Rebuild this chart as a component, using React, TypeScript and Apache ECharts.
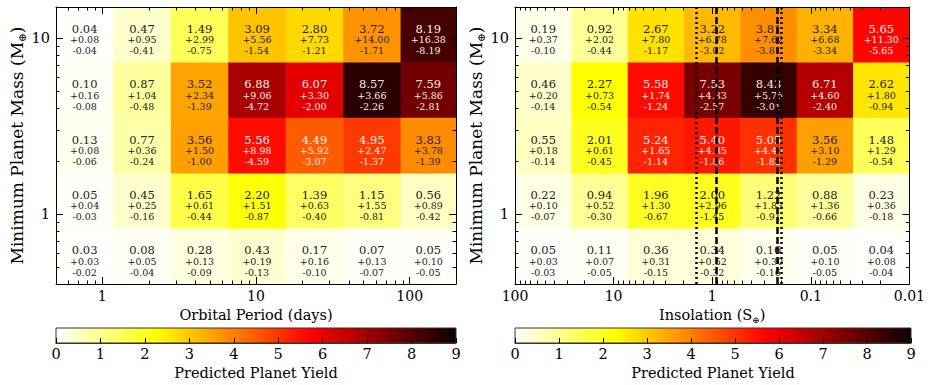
import React, { useEffect, useRef } from "react";
import * as echarts from "echarts";

// ---------- data ----------
// bin edges (log-spaced cells)
const periodEdges = [0.5, 1.18, 2.79, 6.6, 15.6, 36.9, 87.2, 200];
const insolationEdges = [100, 26.8, 7.2, 1.93, 0.518, 0.139, 0.0373, 0.01];
const massEdges = [15, 7.26, 3.52, 1.7, 0.826, 0.4]; // top -> bottom

// left panel (rows top -> bottom, columns short -> long period)
const periodYield = [
  [0.04, 0.47, 1.49, 3.09, 2.8, 3.72, 8.19],
  [0.1, 0.87, 3.52, 6.88, 6.07, 8.57, 7.59],
  [0.13, 0.77, 3.56, 5.56, 4.49, 4.95, 3.83],
  [0.05, 0.45, 1.65, 2.2, 1.39, 1.15, 0.56],
  [0.03, 0.08, 0.28, 0.43, 0.17, 0.07, 0.05],
];
const periodPlus = [
  [0.08, 0.95, 2.99, 5.56, 7.73, 14.0, 16.38],
  [0.16, 1.04, 2.34, 9.06, 3.3, 3.66, 5.86],
  [0.08, 0.36, 1.5, 8.98, 5.92, 2.47, 3.78],
  [0.04, 0.25, 0.61, 1.51, 0.63, 1.55, 0.89],
  [0.03, 0.05, 0.13, 0.19, 0.16, 0.13, 0.1],
];
const periodMinus = [
  [0.04, 0.41, 0.75, 1.54, 1.21, 1.71, 8.19],
  [0.08, 0.48, 1.39, 4.72, 2.0, 2.26, 2.81],
  [0.06, 0.24, 1.0, 4.59, 3.07, 1.37, 1.39],
  [0.03, 0.16, 0.44, 0.87, 0.4, 0.81, 0.42],
  [0.02, 0.04, 0.09, 0.13, 0.1, 0.07, 0.05],
];

// right panel (rows top -> bottom, columns high -> low insolation)
const insolYield = [
  [0.19, 0.92, 2.67, 3.22, 3.81, 3.34, 5.65],
  [0.46, 2.27, 5.58, 7.53, 8.43, 6.71, 2.62],
  [0.55, 2.01, 5.24, 5.4, 5.05, 3.56, 1.48],
  [0.22, 0.94, 1.96, 2.0, 1.22, 0.88, 0.23],
  [0.05, 0.11, 0.36, 0.34, 0.16, 0.05, 0.04],
];
const insolPlus = [
  [0.37, 2.02, 7.8, 6.78, 7.62, 6.68, 11.3],
  [0.2, 0.73, 1.74, 4.33, 5.75, 4.6, 1.8],
  [0.18, 0.61, 1.65, 4.35, 4.4, 3.1, 1.29],
  [0.1, 0.52, 1.3, 2.96, 1.83, 1.36, 0.36],
  [0.03, 0.07, 0.31, 0.52, 0.3, 0.1, 0.08],
];
const insolMinus = [
  [0.1, 0.44, 1.17, 3.02, 3.81, 3.34, 5.65],
  [0.14, 0.54, 1.24, 2.57, 3.01, 2.4, 0.94],
  [0.14, 0.45, 1.14, 1.86, 1.82, 1.29, 0.54],
  [0.07, 0.3, 0.67, 1.45, 0.91, 0.66, 0.18],
  [0.03, 0.05, 0.15, 0.32, 0.16, 0.05, 0.04],
];

// habitable-zone boundaries drawn on the insolation panel
const hzOptimistic = [1.45, 0.204]; // dotted
const hzConservative = [0.91, 0.22]; // dashed

// ticks
const periodMajor = [1, 10, 100];
const periodMinor = [0.6, 0.7, 0.8, 0.9, 2, 3, 4, 5, 6, 7, 8, 9, 20, 30, 40, 50, 60, 70, 80, 90];
const massMajor = [1, 10];
const massMinor = [0.5, 0.6, 0.7, 0.8, 0.9, 2, 3, 4, 5, 6, 7, 8, 9];
const insolMajor = [0.01, 0.1, 1, 10, 100];
const insolMinor = [
  0.02, 0.03, 0.04, 0.05, 0.06, 0.07, 0.08, 0.09,
  0.2, 0.3, 0.4, 0.5, 0.6, 0.7, 0.8, 0.9,
  2, 3, 4, 5, 6, 7, 8, 9,
  20, 30, 40, 50, 60, 70, 80, 90,
];
const yieldMin = 0;
const yieldMax = 9;

// ---------- styling helpers ----------
const FONT = "DejaVu Serif";
const MINOR_LEN = 3.5;

function hotR(value: number): string {
  const t = Math.max(0, Math.min(1, value / yieldMax));
  const v = 1 - t;
  const a = 0.365079;
  const b = 0.746032;
  const r = v < a ? 0.0416 + (1 - 0.0416) * (v / a) : 1;
  const g = v < a ? 0 : v < b ? (v - a) / (b - a) : 1;
  const bl = v < b ? 0 : (v - b) / (1 - b);
  const h = (x: number) => Math.round(x * 255);
  return `rgb(${h(r)},${h(g)},${h(bl)})`;
}

function fmtTick(v: number): string {
  return String(Number(v.toPrecision(3)));
}

function buildCells(xEdges: number[], vals: number[][], plus: number[][], minus: number[][]) {
  const out: number[][] = [];
  for (let r = 0; r < vals.length; r++) {
    for (let c = 0; c < vals[r].length; c++) {
      out.push([xEdges[c], xEdges[c + 1], massEdges[r + 1], massEdges[r], vals[r][c], plus[r][c], minus[r][c]]);
    }
  }
  return out;
}

function renderCell(params: any, api: any) {
  const p0 = api.coord([api.value(0), api.value(2)]);
  const p1 = api.coord([api.value(1), api.value(3)]);
  const x = Math.min(p0[0], p1[0]);
  const y = Math.min(p0[1], p1[1]);
  const w = Math.abs(p1[0] - p0[0]);
  const h = Math.abs(p1[1] - p0[1]);
  const val = api.value(4);
  const pl = api.value(5);
  const mi = api.value(6);
  const cx = x + w / 2;
  const cy = y + h / 2;
  const tc = val > 4.2 ? "#f4f0f0" : "#222222";
  const txt = (s: string, dy: number, size: number) => ({
    type: "text",
    x: cx,
    y: cy + dy,
    style: { text: s, fill: tc, fontSize: size, fontFamily: FONT, align: "center", verticalAlign: "middle" },
  });
  return {
    type: "group",
    children: [
      { type: "rect", shape: { x, y, width: w + 0.5, height: h + 0.5 }, style: { fill: hotR(val) } },
      txt(val.toFixed(2), -6, 11.5),
      txt("+" + pl.toFixed(2), 5, 9.5),
      txt("-" + mi.toFixed(2), 16, 9.5),
    ],
  };
}

// minor tick items: [xValue, yValue, kind] kind 0 = x-axis tick, 1 = y-axis tick
function buildMinorTicks(xMinor: number[], xInRange: number, yMinor: number[], yInRange: number) {
  return [
    ...xMinor.map((v) => [v, yInRange, 0]),
    ...yMinor.map((v) => [xInRange, v, 1]),
  ];
}

function renderMinorTick(params: any, api: any) {
  const cs = params.coordSys;
  const p = api.coord([api.value(0), api.value(1)]);
  const kind = api.value(2);
  const st = { stroke: "#000", lineWidth: 1 };
  if (kind === 0) {
    const x = Math.round(p[0]) + 0.5;
    return {
      type: "group",
      children: [
        { type: "line", shape: { x1: x, y1: cs.y + cs.height, x2: x, y2: cs.y + cs.height - MINOR_LEN }, style: st },
        { type: "line", shape: { x1: x, y1: cs.y, x2: x, y2: cs.y + MINOR_LEN }, style: st },
      ],
    };
  }
  const y = Math.round(p[1]) + 0.5;
  return {
    type: "group",
    children: [
      { type: "line", shape: { x1: cs.x, y1: y, x2: cs.x + MINOR_LEN, y2: y }, style: st },
      { type: "line", shape: { x1: cs.x + cs.width, y1: y, x2: cs.x + cs.width - MINOR_LEN, y2: y }, style: st },
    ],
  };
}

const nameRich = {
  a: { fontFamily: FONT, fontSize: 14.5, color: "#000", lineHeight: 18 },
  b: { fontFamily: FONT, fontSize: 9, color: "#000", verticalAlign: "bottom", lineHeight: 10 },
};

function xAxesFor(gridIndex: number, min: number, max: number, major: number[], inverse: boolean, name: string) {
  const base = { type: "log", logBase: 10, gridIndex, min, max, inverse, z: 10, splitLine: { show: false } };
  const line = { show: true, onZero: false, lineStyle: { color: "#000", width: 1 } };
  return [
    {
      ...base,
      position: "bottom",
      axisLine: line,
      axisTick: { show: true, inside: true, length: 7, customValues: major, lineStyle: { color: "#000" } },
      axisLabel: { show: true, customValues: major, margin: 5, fontFamily: FONT, fontSize: 14, color: "#000", formatter: fmtTick },
      name,
      nameLocation: "middle",
      nameGap: 22,
      nameTextStyle: { fontFamily: FONT, fontSize: 14.5, color: "#000", rich: nameRich },
    },
    {
      ...base,
      position: "top",
      axisLine: line,
      axisTick: { show: true, inside: true, length: 7, customValues: major, lineStyle: { color: "#000" } },
      axisLabel: { show: false },
    },
  ];
}

function yAxesFor(gridIndex: number) {
  const base = { type: "log", logBase: 10, gridIndex, min: massEdges[massEdges.length - 1], max: massEdges[0], z: 10, splitLine: { show: false } };
  const line = { show: true, onZero: false, lineStyle: { color: "#000", width: 1 } };
  const yRich = {
    a: { fontFamily: FONT, fontSize: 17, color: "#000", lineHeight: 21 },
    b: { fontFamily: FONT, fontSize: 10.5, color: "#000", verticalAlign: "bottom", lineHeight: 11 },
  };
  return [
    {
      ...base,
      position: "left",
      axisLine: line,
      axisTick: { show: true, inside: true, length: 7, customValues: massMajor, lineStyle: { color: "#000" } },
      axisLabel: { show: true, customValues: massMajor, margin: 6, fontFamily: FONT, fontSize: 14.5, color: "#000", formatter: fmtTick },
      name: "{a|Minimum Planet Mass (M}{b|⊕}{a|)}",
      nameLocation: "middle",
      nameGap: 27,
      nameTextStyle: { fontFamily: FONT, fontSize: 17, color: "#000", rich: yRich },
    },
    {
      ...base,
      position: "right",
      axisLine: line,
      axisTick: { show: true, inside: true, length: 7, customValues: massMajor, lineStyle: { color: "#000" } },
      axisLabel: { show: false },
    },
  ];
}

function colorbarStops() {
  const stops = [];
  const n = 90;
  for (let i = 0; i <= n; i++) {
    stops.push({ offset: i / n, color: hotR(yieldMin + ((yieldMax - yieldMin) * i) / n) });
  }
  return stops;
}

function renderColorbar(params: any, api: any) {
  const p0 = api.coord([api.value(0), api.value(2)]);
  const p1 = api.coord([api.value(1), api.value(3)]);
  const x = Math.min(p0[0], p1[0]);
  const y = Math.min(p0[1], p1[1]);
  return {
    type: "rect",
    shape: { x, y, width: Math.abs(p1[0] - p0[0]), height: Math.abs(p1[1] - p0[1]) },
    style: { fill: new echarts.graphic.LinearGradient(0, 0, 1, 0, colorbarStops()), stroke: "#333", lineWidth: 1 },
  };
}

function colorbarXAxis(gridIndex: number) {
  return {
    type: "value",
    gridIndex,
    min: yieldMin,
    max: yieldMax,
    interval: 1,
    z: 10,
    position: "bottom",
    splitLine: { show: false },
    axisLine: { show: true, lineStyle: { color: "#333", width: 1 } },
    axisTick: { show: true, inside: true, length: 5, lineStyle: { color: "#000" } },
    axisLabel: { show: true, margin: 3, fontFamily: FONT, fontSize: 14.5, color: "#000" },
    name: "Predicted Planet Yield",
    nameLocation: "middle",
    nameGap: 22,
    nameTextStyle: { fontFamily: FONT, fontSize: 14.5, color: "#000" },
  };
}

export default function App() {
  const ref = useRef<HTMLDivElement>(null);
  useEffect(() => {
    document.body.style.margin = "0";
    const chart = echarts.init(ref.current as HTMLDivElement, null, { renderer: "svg" });

    const pMin = periodEdges[0];
    const pMax = periodEdges[periodEdges.length - 1];
    const sMin = insolationEdges[insolationEdges.length - 1];
    const sMax = insolationEdges[0];

    const xAxis = [
      ...xAxesFor(0, pMin, pMax, periodMajor, false, "Orbital Period (days)"),
      ...xAxesFor(1, sMin, sMax, insolMajor, true, "{a|Insolation (S}{b|⊕}{a|)}"),
      colorbarXAxis(2),
      colorbarXAxis(3),
    ];

    const yAxis = [
      ...yAxesFor(0),
      ...yAxesFor(1),
      { type: "value", gridIndex: 2, min: 0, max: 1, show: false },
      { type: "value", gridIndex: 3, min: 0, max: 1, show: false },
    ];

    const hzLines = [
      ...hzOptimistic.map((v) => ({ xAxis: v, lineStyle: { type: [2, 3], width: 2.5, color: "#000" } })),
      ...hzConservative.map((v) => ({ xAxis: v, lineStyle: { type: [7, 3], width: 2.5, color: "#000" } })),
    ];

    const option: any = {
      animation: false,
      backgroundColor: "#fff",
      grid: [
        { left: 56, top: 7, width: 400, height: 277 },
        { left: 515, top: 7, width: 396, height: 277 },
        { left: 56, top: 328, width: 400, height: 15 },
        { left: 515, top: 328, width: 396, height: 15 },
      ],
      xAxis,
      yAxis,
      series: [
        {
          type: "custom",
          xAxisIndex: 0,
          yAxisIndex: 0,
          clip: false,
          encode: { x: [0, 1], y: [2, 3] },
          data: buildCells(periodEdges, periodYield, periodPlus, periodMinus),
          renderItem: renderCell,
        },
        {
          type: "custom",
          xAxisIndex: 0,
          yAxisIndex: 0,
          z: 6,
          clip: false,
          encode: { x: 0, y: 1 },
          data: buildMinorTicks(periodMinor, 1, massMinor, 1),
          renderItem: renderMinorTick,
        },
        {
          type: "custom",
          xAxisIndex: 2,
          yAxisIndex: 2,
          clip: false,
          encode: { x: [0, 1], y: [2, 3] },
          data: buildCells(insolationEdges, insolYield, insolPlus, insolMinus),
          renderItem: renderCell,
        },
        {
          type: "custom",
          xAxisIndex: 2,
          yAxisIndex: 2,
          z: 6,
          clip: false,
          encode: { x: 0, y: 1 },
          data: buildMinorTicks(insolMinor, 1, massMinor, 1),
          renderItem: renderMinorTick,
        },
        {
          type: "line",
          xAxisIndex: 2,
          yAxisIndex: 2,
          data: [],
          markLine: { silent: true, symbol: ["none", "none"], label: { show: false }, data: hzLines },
        },
        {
          type: "custom",
          xAxisIndex: 4,
          yAxisIndex: 4,
          clip: false,
          encode: { x: [0, 1], y: [2, 3] },
          data: [[yieldMin, yieldMax, 0, 1]],
          renderItem: renderColorbar,
        },
        {
          type: "custom",
          xAxisIndex: 5,
          yAxisIndex: 5,
          clip: false,
          encode: { x: [0, 1], y: [2, 3] },
          data: [[yieldMin, yieldMax, 0, 1]],
          renderItem: renderColorbar,
        },
      ],
    };
    chart.setOption(option);
    return () => chart.dispose();
  }, []);
  return <div ref={ref} style={{ width: 928, height: 385 }} />;
}
